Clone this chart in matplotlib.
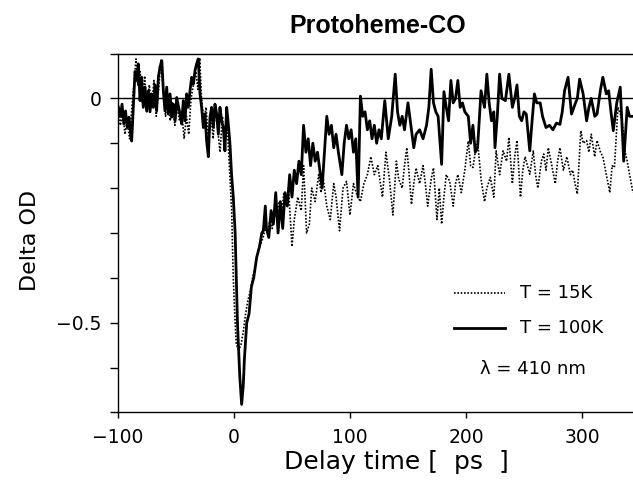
import matplotlib
matplotlib.use("Agg")
import matplotlib.pyplot as plt
import numpy as np

# T = 100K (сплошная линия)
t_100 = [-99.7, -98, -96.5, -95, -93.5, -92, -90.5, -89, -88.2, -86.8, -85.3, -83.9, -82.5, -81, -79.6,
         -78.2, -76.7, -75.3, -73.8, -72.4, -71, -69.5, -68.1, -66.7, -65.2, -63.8, -62.2, -60.9, -59.5,
         -58, -56.6, -55.1, -53.7, -52.3, -50.8, -49.4, -46.5, -45.1, -43.7, -42.2, -40.8, -39.4, -37.9,
         -36.5, -35, -33.6, -32.2, -30.8, -29.3, -27.9, -26.4, -25, -23.6, -22.1, -20.7, -19.3, -17.8,
         -16.4, -14.9, -13.5, -12.1, -10.6, -9.2, -7.8, -6.3, -4.9, -3.5, -2.1, -0.6, 1, 3, 5, 6.6, 8,
         9, 11, 13, 15, 17, 19.5, 22, 24, 25.3, 27, 28, 30, 32, 34, 36, 38, 40, 42, 44, 46, 48, 50, 52, 54,
         56, 58, 60, 62, 64, 66, 68, 70, 72, 74, 76, 78, 80, 82, 84, 86, 88, 90, 93, 95, 97, 99, 101, 103,
         105, 107, 109, 111, 113, 115, 117, 119, 121, 123, 125, 127, 130, 133, 136, 139, 141, 143, 145,
         147, 150, 152, 155, 157, 160, 163, 166, 168, 170, 172, 174, 176, 179, 181, 183, 185, 187, 189,
         191, 193, 195, 197, 199, 202, 204, 206, 208, 210, 213, 216, 218, 220, 222, 224, 225, 227, 229,
         231, 234, 237, 240, 242, 244, 246, 248, 250, 252, 255, 257, 259, 261, 264, 266, 269, 272, 275,
         278, 281, 283, 285, 288, 291, 294, 296, 298, 301, 304, 306, 308, 311, 313, 316, 318, 321, 323,
         325, 327, 330, 333, 336, 339, 341, 344]
od_100 = [-0.02, -0.04, -0.013, -0.057, -0.028, -0.065, -0.042, -0.08, -0.095, -0.02, 0.06, 0.04, 0.077,
          -0.005, 0.047, -0.02, 0.025, -0.028, 0.017, -0.03, 0.01, -0.02, 0.03, -0.028, 0.047, 0.07, 0.084,
          0.017, -0.028, 0.025, -0.035, 0.01, -0.042, -0.013, -0.05, 0.002, -0.035, -0.057, -0.005, -0.05,
          0.01, -0.02, 0.017, 0.047, 0.032, 0.062, 0.077, 0.088, 0.01, -0.02, -0.065, -0.035, -0.095, -0.13,
          -0.042, -0.02, -0.065, -0.013, -0.035, -0.08, -0.02, -0.05, -0.065, -0.117, -0.02, -0.057, -0.1,
          -0.169, -0.22, -0.3, -0.5, -0.62, -0.682, -0.64, -0.58, -0.5, -0.48, -0.42, -0.4, -0.355, -0.33,
          -0.3, -0.295, -0.24, -0.29, -0.31, -0.25, -0.28, -0.21, -0.3, -0.23, -0.29, -0.21, -0.24, -0.17,
          -0.22, -0.16, -0.19, -0.14, -0.17, -0.06, -0.12, -0.09, -0.15, -0.1, -0.14, -0.12, -0.16, -0.2,
          -0.12, -0.04, -0.08, -0.06, -0.11, -0.08, -0.12, -0.17, -0.1, -0.06, -0.09, -0.07, -0.12, -0.09,
          -0.22, 0.005, -0.04, -0.03, -0.07, -0.05, -0.09, -0.06, -0.1, -0.07, -0.09, -0.005, -0.09, -0.04,
          0.054, -0.03, -0.06, -0.04, -0.07, -0.01, -0.05, -0.11, -0.08, -0.07, -0.09, -0.06, -0.02, 0.065,
          -0.01, -0.03, -0.04, -0.147, 0.015, -0.02, -0.05, 0.04, -0.01, 0.0, 0.04, -0.02, -0.01, -0.03,
          -0.04, -0.1, -0.06, -0.12, -0.11, 0.017, -0.02, 0.054, -0.01, -0.05, -0.03, -0.11, -0.04, 0.054,
          0.0, -0.005, 0.054, -0.02, 0.0, 0.03, -0.04, -0.05, -0.03, -0.035, -0.117, -0.05, 0.01, -0.01,
          -0.01, -0.04, -0.065, -0.06, -0.07, -0.055, -0.058, -0.03, 0.017, 0.047, -0.035, -0.013, 0.0,
          0.043, 0.01, -0.05, -0.02, 0.0, -0.04, -0.035, 0.02, 0.047, 0.01, 0.017, -0.03, -0.072, -0.01,
          0.025, -0.14, -0.02, -0.04, -0.04]

# T = 15K (пунктир)
t_15 = [-100, -98, -96, -94, -92, -90, -88, -86, -84.5, -83, -81, -79, -77, -75, -73, -71, -69, -67, -65,
        -63, -61, -59, -57, -55, -53, -51, -49, -47, -45, -43, -41, -39, -37, -35, -33, -31, -29.5, -28,
        -26, -24, -22, -20, -18, -16, -14, -12, -10, -8, -6, -4, -2, -0.6, 1, 2, 4, 6, 8, 10, 12, 14, 16,
        18, 20, 22.4, 25, 27, 29, 31, 33, 35, 37, 39, 41, 43, 45, 47, 50, 52, 55, 58, 60, 62.6, 65, 67,
        70, 73, 75, 77, 80, 83, 86, 88, 91, 94, 97, 100, 103, 106, 109, 112, 115, 118, 121, 124, 128,
        131, 134, 137, 140, 142, 145, 147, 149, 151, 153, 155, 157, 160, 163, 165, 167, 170, 172, 175,
        177, 179, 181, 183, 186, 189, 191, 193, 196, 199, 202, 204, 206, 208, 210, 213, 216, 218, 221,
        224, 226, 229, 232, 235, 237, 240, 242, 244, 247, 249, 251, 253, 255, 258, 260, 262, 265, 267,
        269, 271, 274, 277, 279, 281, 284, 287, 290, 292, 294, 296, 299, 301, 304, 306, 308, 311, 313,
        316, 318, 321, 324, 326, 328, 331, 334, 336, 337, 339, 341, 344]
od_15 = [-0.01, -0.06, -0.03, -0.08, -0.05, -0.09, -0.02, 0.04, 0.088, 0.03, 0.06, -0.01, 0.05, -0.03,
         0.03, -0.02, 0.04, -0.04, 0.02, 0.085, 0.02, -0.04, 0.01, -0.05, -0.01, -0.06, -0.02, -0.05,
         -0.03, -0.09, -0.04, -0.08, 0.0, 0.03, 0.06, 0.02, 0.09, 0.0, -0.05, -0.02, -0.1, -0.03, -0.09,
         -0.02, -0.07, -0.12, -0.04, -0.1, -0.05, -0.15, -0.25, -0.4, -0.5, -0.548, -0.56, -0.55, -0.52,
         -0.48, -0.45, -0.43, -0.4, -0.38, -0.35, -0.33, -0.31, -0.29, -0.3, -0.27, -0.29, -0.25, -0.27,
         -0.23, -0.26, -0.21, -0.24, -0.2, -0.33, -0.27, -0.22, -0.25, -0.15, -0.3, -0.28, -0.2, -0.23,
         -0.17, -0.21, -0.18, -0.24, -0.27, -0.19, -0.22, -0.295, -0.2, -0.185, -0.26, -0.19, -0.215,
         -0.23, -0.19, -0.17, -0.13, -0.17, -0.15, -0.22, -0.12, -0.18, -0.26, -0.14, -0.18, -0.2, -0.15,
         -0.11, -0.17, -0.236, -0.19, -0.155, -0.19, -0.15, -0.19, -0.24, -0.18, -0.155, -0.27, -0.2,
         -0.28, -0.22, -0.17, -0.185, -0.24, -0.19, -0.17, -0.21, -0.16, -0.095, -0.15, -0.154, -0.12,
         -0.095, -0.18, -0.23, -0.2, -0.176, -0.22, -0.117, -0.17, -0.117, -0.14, -0.087, -0.19, -0.13,
         -0.094, -0.22, -0.16, -0.13, -0.15, -0.169, -0.117, -0.17, -0.2, -0.14, -0.124, -0.16, -0.11,
         -0.15, -0.19, -0.14, -0.11, -0.16, -0.13, -0.17, -0.16, -0.19, -0.213, -0.072, -0.1, -0.094,
         -0.12, -0.08, -0.13, -0.094, -0.12, -0.13, -0.17, -0.21, -0.15, -0.154, -0.02, -0.042, -0.08,
         -0.117, -0.14, -0.169, -0.21]

x_ticks = [-100, 0, 100, 200, 300]
y_ticks = [0, -0.5]
y_labels = ['0', '\u22120.5']

fig = plt.figure(figsize=(6.33, 4.82), dpi=100)
ax = fig.add_axes([0.1864, 0.1442, 0.8136, 0.7448])

ax.plot(t_15, od_15, color='black', lw=1.2, linestyle=(0, (1, 1)))
ax.plot(t_100, od_100, color='black', lw=2.0)
ax.axhline(0, color='black', lw=1.0)

ax.set_xlim(-100, 344)
ax.set_ylim(-0.7, 0.1)
ax.spines['right'].set_visible(False)
for s in ['left', 'top', 'bottom']:
    ax.spines[s].set_linewidth(1.0)

ax.set_xticks(x_ticks)
ax.set_yticks(y_ticks)
ax.set_yticklabels(y_labels)
ax.set_yticks(np.arange(-0.7, 0.11, 0.1), minor=True)
ax.tick_params(axis='x', direction='out', length=4, width=1, pad=7, labelsize=13.5)
ax.tick_params(axis='y', which='both', direction='out', length=6, width=1, pad=6, labelsize=13.5)

# легенда вручную
ax.plot([190, 234], [-0.434, -0.434], color='black', lw=1.2, linestyle=(0, (1, 1)))
ax.text(247, -0.434, 'T = 15K', fontsize=13, va='center')
ax.plot([190, 234], [-0.512, -0.512], color='black', lw=2.0)
ax.text(247, -0.512, 'T = 100K', fontsize=13, va='center')
ax.text(212, -0.603, 'λ = 410 nm', fontsize=13, va='center')

fig.text(378 / 633, 1 - 26 / 482, 'Protoheme-CO', fontsize=18, fontweight='bold',
         family='Liberation Sans', ha='center', va='center')
fig.text(396 / 633, 1 - 462 / 482, 'Delay time [  ps  ]', fontsize=18, ha='center', va='center')
fig.text(30 / 633, 1 - 240 / 482, 'Delta OD', fontsize=16, rotation=90, ha='center', va='center')

fig.savefig('out.png', dpi=100)
